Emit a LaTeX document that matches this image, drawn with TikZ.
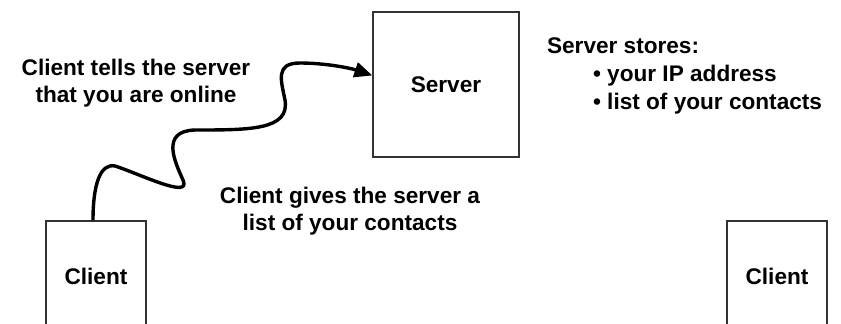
\documentclass[tikz,border=0pt]{standalone}
\usepackage{fontspec}
\setmainfont{Liberation Sans}
\usetikzlibrary{arrows.meta}

\begin{document}
\begin{tikzpicture}[x=0.5pt, y=-0.5pt, >={Triangle[length=9pt, width=7.5pt]},
    every node/.style={font=\bfseries\fontsize{11.3}{13.8}\selectfont},
    box/.style={draw=black!80, line width=0.6pt, inner sep=0pt}]
    \useasboundingbox (0,0) rectangle (841,323);
    \clip (0,0) rectangle (841,323);

    % Server box at the top
    \node[box, minimum width=73pt, minimum height=72.5pt] (server) at (446,84.5) {Server};

    % Client boxes at the bottom
    \foreach \name/\x in {clientL/96, clientR/777} {
        \node[box, minimum width=50pt, minimum height=55pt] (\name) at (\x,276) {Client};
    }

    % Texts
    \node[align=center] (tells) at (136,83) {Client tells the server\\that you are online};
    \node[align=center] (gives) at (350,211) {Client gives the server a\\list of your contacts};
    \node[align=left, anchor=north west] (stores) at (540,31)
        {Server stores:\\\hspace*{23pt}• your IP address\\\hspace*{23pt}• list of your contacts};

    % Wavy message from the left client to the server
    \draw[->, line width=1.7pt] ([xshift=-1.5pt]clientL.north)
        .. controls (93,185) and (100,163) .. (115,166)
        .. controls (140,174) and (192,200) .. (183,180)
        .. controls (175,162) and (160,131) .. (195,130)
        .. controls (250,130) and (290,130) .. (285,100)
        .. controls (281,80) and (275,63) .. (300,63)
        .. controls (325,63) and (350,68) .. (server.173);
\end{tikzpicture}
\end{document}
